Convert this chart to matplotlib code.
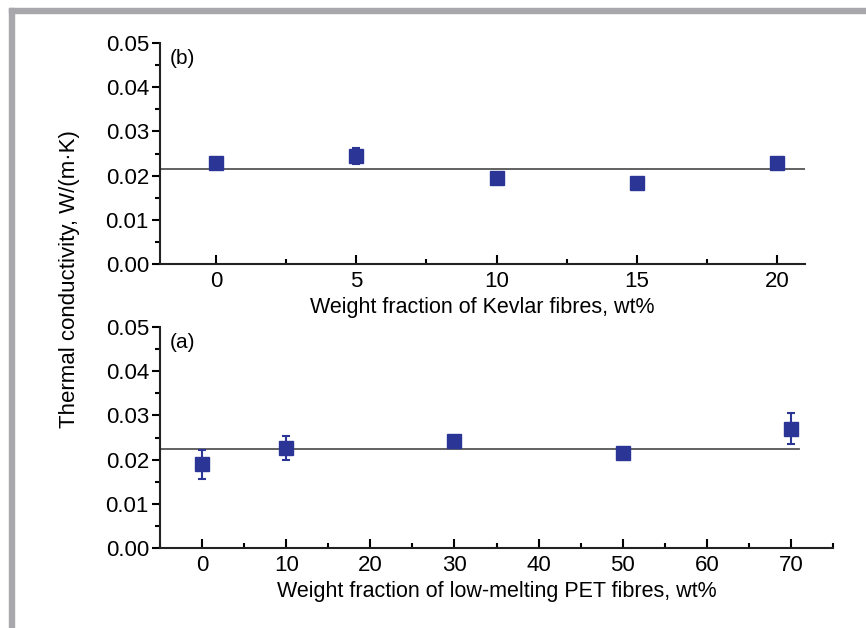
import matplotlib.pyplot as plt
from matplotlib.patches import Rectangle
from matplotlib.ticker import MultipleLocator

plt.rcParams['font.family'] = ['Liberation Sans', 'DejaVu Sans']

# (b) Kevlar fibres
kevlar_wt = [0, 5, 10, 15, 20]
kevlar_k = [0.0228, 0.0244, 0.0195, 0.0183, 0.0228]
kevlar_err = [0.0003, 0.0018, 0.0005, 0.0007, 0.0008]
kevlar_ref = 0.0215

# (a) low-melting PET fibres
pet_wt = [0, 10, 30, 50, 70]
pet_k = [0.0189, 0.0226, 0.0242, 0.0215, 0.0270]
pet_err = [0.0033, 0.0027, 0.0008, 0.0003, 0.0035]
pet_ref = 0.0224

blue = '#2b3595'
W, H = 866, 628


def style_axis(ax, xmajor, xminor):
    for s in ['top', 'right']:
        ax.spines[s].set_visible(False)
    for s in ['left', 'bottom']:
        ax.spines[s].set_linewidth(1.5)
        ax.spines[s].set_color('#222222')
    ax.set_ylim(0, 0.05)
    ax.yaxis.set_major_locator(MultipleLocator(0.01))
    ax.yaxis.set_minor_locator(MultipleLocator(0.005))
    ax.xaxis.set_major_locator(MultipleLocator(xmajor))
    ax.xaxis.set_minor_locator(MultipleLocator(xminor))
    ax.tick_params(axis='y', which='major', direction='out', length=6, width=1.5, labelsize=16, pad=2)
    ax.tick_params(axis='y', which='minor', direction='out', length=3.5, width=1.5)
    ax.tick_params(axis='x', which='major', direction='in', length=6.5, width=1.5, labelsize=16, pad=5)
    ax.tick_params(axis='x', which='minor', direction='in', length=3.5, width=1.5)
    ax.yaxis.set_major_formatter(plt.FormatStrFormatter('%.2f'))


fig = plt.figure(figsize=(W / 100, H / 100), dpi=100)

# gray frame on left and top
fig.patches.append(Rectangle((9 / W, 0), 5 / W, 1 - 8 / H, transform=fig.transFigure,
                             color='#a8a8ac', zorder=0))
fig.patches.append(Rectangle((9 / W, 1 - 13 / H), 1, 5 / H, transform=fig.transFigure,
                             color='#a8a8ac', zorder=0))

ax1 = fig.add_axes([160 / W, 1 - 264 / H, (805 - 160) / W, (264 - 43) / H])
ax2 = fig.add_axes([160 / W, 1 - 548 / H, (833 - 160) / W, (548 - 327) / H])

ax1.plot([-2, 21], [kevlar_ref, kevlar_ref], color='#555555', lw=1.3, zorder=1)
ax1.errorbar(kevlar_wt, kevlar_k, yerr=kevlar_err, fmt='s', color=blue, ms=10,
             capsize=3.2, elinewidth=1.5, capthick=1.5, zorder=3)
ax1.set_xlim(-2, 21)
style_axis(ax1, 5, 2.5)
ax1.set_xlabel('Weight fraction of Kevlar fibres, wt%', fontsize=15.5, labelpad=4)
ax1.text(0.015, 0.975, '(b)', transform=ax1.transAxes, fontsize=15, va='top', ha='left')

ax2.plot([-5, 71], [pet_ref, pet_ref], color='#555555', lw=1.3, zorder=1)
ax2.errorbar(pet_wt, pet_k, yerr=pet_err, fmt='s', color=blue, ms=10,
             capsize=3.2, elinewidth=1.5, capthick=1.5, zorder=3)
ax2.set_xlim(-5, 75)
style_axis(ax2, 10, 5)
ax2.set_xlabel('Weight fraction of low-melting PET fibres, wt%', fontsize=15.5, labelpad=4)
ax2.text(0.015, 0.975, '(a)', transform=ax2.transAxes, fontsize=15, va='top', ha='left')

fig.text(70 / W, 1 - 279 / H, 'Thermal conductivity, W/(m·K)', rotation=90,
         fontsize=16, ha='center', va='center')

fig.savefig('out.png', dpi=100)
